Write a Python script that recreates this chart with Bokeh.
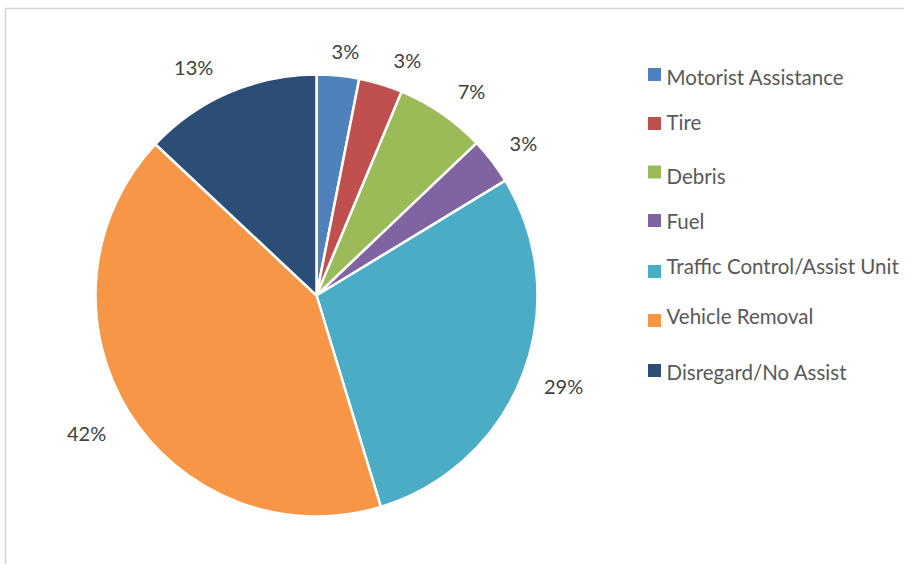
import numpy as np
from bokeh.plotting import figure
from bokeh.models import Range1d, ColumnDataSource
from bokeh.core.properties import value
from bokeh.embed import file_html
from bokeh.resources import INLINE

# ---- data ----
categories = ["Motorist Assistance", "Tire", "Debris", "Fuel",
              "Traffic Control/Assist Unit", "Vehicle Removal", "Disregard/No Assist"]
shares = [3.1, 3.2, 6.6, 3.4, 29.0, 41.7, 13.0]
colors = ["#4F81BD", "#C0504D", "#9BBB59", "#8064A2", "#4BACC6", "#F79646", "#2C4D75"]

# ---- layout (pixels, origin top-left of the figure) ----
W, H = 904, 564
CX, CY = 316, 295          # pie centre
R = 221                    # pie radius
label_dist = [244.7, 251.1, 255.4, 256.2, 263.6, 268.7, 258.2]
label_shift_deg = [1.2, 4.3, 2.8, 1.3, -0.5, 0.7, -5.0]
legend_x_sq = 654
legend_x_txt = 666
legend_square_y = [74, 123, 171.5, 220, 271, 320, 370]
legend_text_mid = [76, 121, 175, 220, 265, 315, 371]
FONT = "Lato"


def py(y):
    return H - y


frac = np.array(shares) / np.sum(shares)
cum_end = np.cumsum(frac)
cum_start = cum_end - frac
start_angle = np.pi / 2 - 2 * np.pi * cum_start
end_angle = np.pi / 2 - 2 * np.pi * cum_end

mid_deg = (cum_start + cum_end) / 2 * 360 + np.array(label_shift_deg)
theta = np.radians(mid_deg)
lab_x = CX + np.array(label_dist) * np.sin(theta)
lab_y = [py(CY - d * np.cos(t) - 1.5) for d, t in zip(label_dist, theta)]
lab_text = [f"{round(s)}%" for s in shares]

p = figure(width=W, height=H, output_backend="svg", toolbar_location=None,
           x_range=Range1d(0, W), y_range=Range1d(0, H),
           x_axis_type=None, y_axis_type=None, min_border=0,
           background_fill_color="white", border_fill_color="white")
p.grid.visible = False
p.outline_line_color = None

# chart-area border (left and top edges visible)
p.segment(x0=[5, 5], y0=[0, py(8)], x1=[5, W], y1=[py(8), py(8)],
          line_color="#D4D4D4", line_width=1.5)

src = ColumnDataSource(dict(start=start_angle, end=end_angle, color=colors))
p.wedge(x=CX, y=py(CY), radius=R, start_angle="start", end_angle="end",
        direction="clock", fill_color="color", line_color="white",
        line_width=2.5, source=src)

p.text(x=lab_x, y=lab_y, text=lab_text, text_align="center",
       text_baseline="middle", text_font=value(FONT), text_font_size="20px",
       text_color="#404040")

# legend
p.scatter(x=[legend_x_sq] * len(categories), y=[py(v) for v in legend_square_y],
          marker="square", size=13, fill_color=colors, line_color=None)
p.text(x=[legend_x_txt] * len(categories), y=[py(v) for v in legend_text_mid],
       text=categories, text_align="left", text_baseline="middle",
       text_font=value(FONT), text_font_size="20.5px", text_color="#595959")

open("out.html", "w").write(file_html(p, INLINE))
